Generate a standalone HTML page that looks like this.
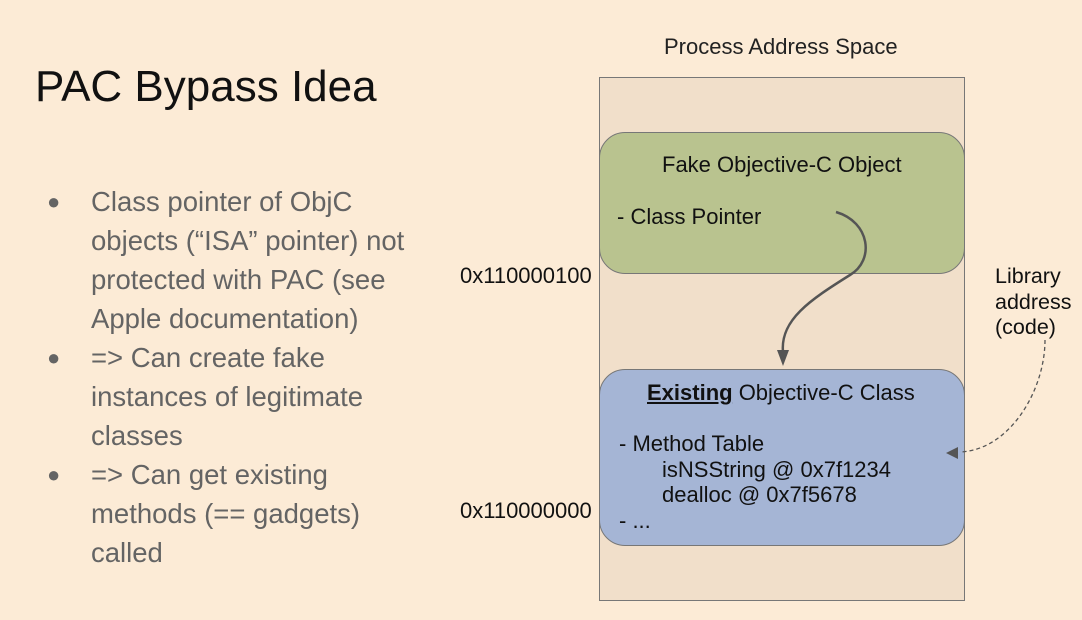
<!DOCTYPE html>
<html><head><meta charset="utf-8"><style>
body{margin:0;width:1082px;height:620px;background:#fcebd6;font-family:"Liberation Sans",sans-serif;position:relative;overflow:hidden}
.a{position:absolute;white-space:nowrap}
</style></head><body>
<div class="a" style="left:35px;top:62px;font-size:44px;color:#111">PAC Bypass Idea</div>
<div class="a" style="left:47px;top:182px;font-size:27.5px;line-height:39px;color:#646464">
<div style="position:relative;padding-left:44px">
<span style="position:absolute;left:0;font-size:22px">●</span>Class pointer of ObjC<br>objects (“ISA” pointer) not<br>protected with PAC (see<br>Apple documentation)</div>
<div style="position:relative;padding-left:44px"><span style="position:absolute;left:0;font-size:22px">●</span>=&gt; Can create fake<br>instances of legitimate<br>classes</div>
<div style="position:relative;padding-left:44px"><span style="position:absolute;left:0;font-size:22px">●</span>=&gt; Can get existing<br>methods (== gadgets)<br>called</div>
</div>
<div class="a" style="left:664px;top:34px;font-size:22px;color:#222">Process Address Space</div>
<div class="a" style="left:599px;top:77px;width:364px;height:522px;background:#f1dfca;border:1px solid #777"></div>
<div class="a" style="left:599px;top:132px;width:364px;height:140px;background:#b9c38f;border:1px solid #777;border-radius:26px"></div>
<div class="a" style="left:599px;top:369px;width:364px;height:175px;background:#a5b5d5;border:1px solid #777;border-radius:26px"></div>
<div class="a" style="left:662px;top:152px;font-size:22px;color:#111">Fake Objective-C Object</div>
<div class="a" style="left:617px;top:204px;font-size:22px;color:#111">- Class Pointer</div>
<div class="a" style="left:647px;top:380px;font-size:22px;color:#111"><b><u>Existing</u></b> Objective-C Class</div>
<div class="a" style="left:619px;top:431px;font-size:22px;line-height:25.5px;color:#111">- Method Table<br><span style="padding-left:43px">isNSString @ 0x7f1234</span><br><span style="padding-left:43px">dealloc @ 0x7f5678</span><br>- ...</div>
<div class="a" style="left:460px;top:263px;font-size:22px;color:#111">0x110000100</div>
<div class="a" style="left:460px;top:498px;font-size:22px;color:#111">0x110000000</div>
<div class="a" style="left:995px;top:264px;font-size:21.5px;line-height:25.5px;color:#111">Library<br>address<br>(code)</div>
<svg class="a" style="left:0;top:0" width="1082" height="620">
<path d="M836 212 C870 222 875 260 850 275 C810 300 780 320 783 352" fill="none" stroke="#555" stroke-width="2.5"/>
<polygon points="777,350 789,350 783,366" fill="#555"/>
<path d="M1045 340 C1045 390 1010 450 960 452" fill="none" stroke="#555" stroke-width="1.3" stroke-dasharray="4,3"/>
<polygon points="946,453 958,447 958,459" fill="#555"/>
</svg>
</body></html>
